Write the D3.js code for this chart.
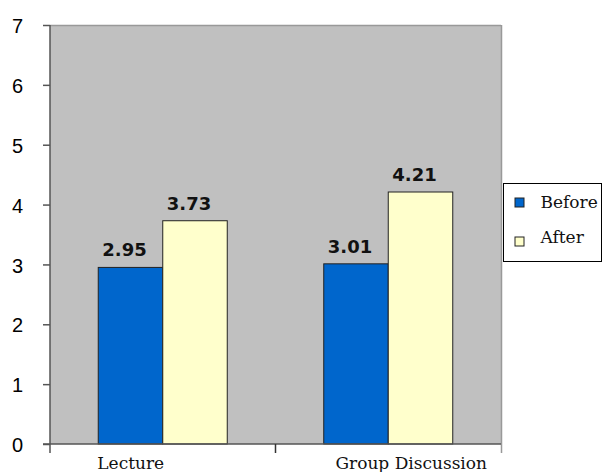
<!DOCTYPE html>
<html>
<head>
<meta charset="utf-8">
<script src="https://cdn.jsdelivr.net/npm/d3@7"></script>
<style>
  html, body { margin: 0; padding: 0; background: #fff; }
  svg { display: block; }
</style>
</head>
<body>
<svg id="chart" width="603" height="472"></svg>
<script>
// Mean scores before and after, by teaching method
const categories = ["Lecture", "Group Discussion"];
const seriesNames = ["Before", "After"];
const beforeValues = [2.95, 3.01];
const afterValues = [3.73, 4.21];
const yTicks = [0, 1, 2, 3, 4, 5, 6, 7];

const colors = { Before: "#0066CC", After: "#FFFFCC" };

const svg = d3.select("#chart");
const plot = { left: 50, right: 501, top: 25, bottom: 444 };

const y = d3.scaleLinear().domain([0, 7]).range([plot.bottom, plot.top]);
const x0 = d3.scaleBand().domain(categories).range([plot.left, plot.right]).padding(0);
const x1 = d3.scaleBand().domain(seriesNames).range([0, x0.bandwidth()])
  .paddingInner(0).paddingOuter(0.748);

const rows = categories.map((c, i) => ({
  category: c,
  values: [
    { key: "Before", value: beforeValues[i] },
    { key: "After", value: afterValues[i] }
  ]
}));

// Plot background
svg.append("rect")
  .attr("x", plot.left).attr("y", plot.top)
  .attr("width", plot.right - plot.left).attr("height", plot.bottom - plot.top)
  .attr("fill", "#C0C0C0");

// Frame: top and right edges
svg.append("line")
  .attr("x1", plot.left).attr("x2", plot.right)
  .attr("y1", plot.top + 0.5).attr("y2", plot.top + 0.5)
  .attr("stroke", "#999").attr("stroke-width", 1.5);
svg.append("line")
  .attr("x1", plot.right + 0.5).attr("x2", plot.right + 0.5)
  .attr("y1", plot.top).attr("y2", plot.bottom + 9)
  .attr("stroke", "#999").attr("stroke-width", 1.5);

// Bars
const groups = svg.selectAll("g.group").data(rows).join("g")
  .attr("class", "group")
  .attr("transform", d => `translate(${x0(d.category)},0)`);

groups.selectAll("rect").data(d => d.values).join("rect")
  .attr("x", d => x1(d.key))
  .attr("y", d => y(d.value))
  .attr("width", x1.bandwidth())
  .attr("height", d => y(0) - y(d.value))
  .attr("fill", d => colors[d.key])
  .attr("stroke", "#222")
  .attr("stroke-width", 1);

// Value labels
groups.selectAll("text").data(d => d.values).join("text")
  .attr("x", d => x1(d.key) + x1.bandwidth() / 2 - 6)
  .attr("y", d => y(d.value) - 11)
  .attr("text-anchor", "middle")
  .attr("font-family", "DejaVu Sans, sans-serif")
  .attr("font-weight", "bold")
  .attr("font-size", 18)
  .attr("fill", "#111")
  .text(d => d.value.toFixed(2));

// Y axis
const yAxis = svg.append("g")
  .attr("transform", `translate(${plot.left},0)`)
  .call(d3.axisLeft(y).tickValues(yTicks).tickSize(7).tickPadding(20).tickFormat(d3.format("d")));
yAxis.select(".domain").remove();
yAxis.selectAll(".tick line").attr("stroke", "#555").attr("stroke-width", 1.5);
yAxis.selectAll(".tick text")
  .attr("font-family", "Liberation Sans, Arial, sans-serif")
  .attr("font-size", 20)
  .attr("fill", "#000")
  .attr("dy", "0.38em");
svg.append("line")
  .attr("x1", plot.left).attr("x2", plot.left)
  .attr("y1", plot.top).attr("y2", plot.bottom + 9)
  .attr("stroke", "#555").attr("stroke-width", 1.5);

// X axis
svg.append("line")
  .attr("x1", plot.left - 7).attr("x2", plot.right)
  .attr("y1", plot.bottom).attr("y2", plot.bottom)
  .attr("stroke", "#555").attr("stroke-width", 1.5);
const boundaries = categories.slice(1).map(c => x0(c));
svg.selectAll("line.sep").data(boundaries).join("line")
  .attr("class", "sep")
  .attr("x1", d => d).attr("x2", d => d)
  .attr("y1", plot.bottom).attr("y2", plot.bottom + 9)
  .attr("stroke", "#333").attr("stroke-width", 1.5);

const labelShift = { "Lecture": -32, "Group Discussion": 23 };
svg.selectAll("text.cat").data(categories).join("text")
  .attr("class", "cat")
  .attr("x", d => x0(d) + x0.bandwidth() / 2 + labelShift[d])
  .attr("y", plot.bottom + 25)
  .attr("text-anchor", "middle")
  .attr("font-family", "DejaVu Serif, serif")
  .attr("font-size", 17)
  .attr("fill", "#111")
  .text(d => d);

// Legend
const legend = svg.append("g").attr("transform", "translate(503.5,183.5)");
legend.append("rect")
  .attr("width", 98).attr("height", 78)
  .attr("fill", "#fff").attr("stroke", "#000").attr("stroke-width", 1);
const items = legend.selectAll("g.item").data(seriesNames).join("g")
  .attr("class", "item")
  .attr("transform", (d, i) => `translate(0,${14 + i * 39})`);
items.append("rect")
  .attr("x", 11.5).attr("y", 0.5)
  .attr("width", 9).attr("height", 9)
  .attr("fill", d => colors[d])
  .attr("stroke", "#222").attr("stroke-width", 1);
items.append("text")
  .attr("x", 37).attr("y", (d, i) => i === 0 ? 10.5 : 6)
  .attr("font-family", "DejaVu Serif, serif")
  .attr("font-size", 17)
  .attr("fill", "#111")
  .text(d => d);
</script>
</body>
</html>
